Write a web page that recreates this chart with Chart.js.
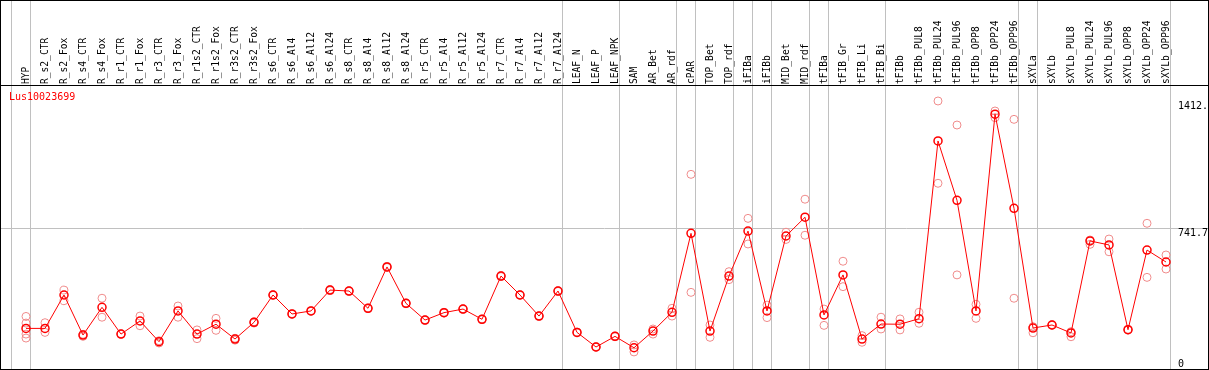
<!DOCTYPE html>
<html>
<head>
<meta charset="utf-8">
<script src="https://cdn.jsdelivr.net/npm/chart.js@4.4.1/dist/chart.umd.min.js"></script>
<style>
  body { margin: 0; background: #fff; }
  #wrap { position: relative; width: 1209px; height: 370px; box-sizing: border-box; border: 1px solid #000; }
  #gene { position: absolute; left: 8px; top: 90px; color: #f00; font: 10px "DejaVu Sans Mono", monospace; }
  canvas { display: block; }
</style>
</head>
<body>
<div id="wrap">
  <canvas id="myChart" width="1207" height="368"></canvas>
  <div id="gene">Lus10023699</div>
</div>
<script>
// Sample names, one column each
const categories = [
    'HYP', 'R_s2_CTR', 'R_s2_Fox', 'R_s4_CTR', 'R_s4_Fox', 'R_r1_CTR', 'R_r1_Fox', 'R_r3_CTR', 'R_r3_Fox',
    'R_r1s2_CTR', 'R_r1s2_Fox', 'R_r3s2_CTR', 'R_r3s2_Fox',
    'R_s6_CTR', 'R_s6_Al4', 'R_s6_Al12', 'R_s6_Al24', 'R_s8_CTR', 'R_s8_Al4', 'R_s8_Al12', 'R_s8_Al24',
    'R_r5_CTR', 'R_r5_Al4', 'R_r5_Al12', 'R_r5_Al24', 'R_r7_CTR', 'R_r7_Al4', 'R_r7_Al12', 'R_r7_Al24',
    'LEAF_N', 'LEAF_P', 'LEAF_NPK', 'SAM', 'AR_Bet', 'AR_rdf', 'cPAR', 'TOP_Bet', 'TOP_rdf',
    'iFIBa', 'iFIBb', 'MID_Bet', 'MID_rdf', 'tFIBa', 'tFIB_Gr', 'tFIB_Li', 'tFIB_Bi',
    'tFIBb', 'tFIBb_PUL8', 'tFIBb_PUL24', 'tFIBb_PUL96', 'tFIBb_OPP8', 'tFIBb_OPP24', 'tFIBb_OPP96',
    'sXYLa', 'sXYLb', 'sXYLb_PUL8', 'sXYLb_PUL24', 'sXYLb_PUL96', 'sXYLb_OPP8', 'sXYLb_OPP24', 'sXYLb_OPP96'
];

// Mean expression per sample
const means = [
    214, 214, 390, 179, 325, 184, 253, 144, 306, 184,
    236, 158, 246, 390, 290, 306, 416, 411, 320, 538,
    346, 258, 297, 316, 262, 490, 390, 279, 411, 193,
    116, 172, 112, 200, 299, 715, 200, 490, 727, 306,
    701, 800, 285, 496, 158, 237, 236, 265, 1202, 889,
    306, 1343, 847, 216, 232, 190, 675, 654, 207, 627,
    564
];

// Replicate values per sample
const replicates = [
    [277, 242, 184, 163], [244, 193], [416, 360], [183, 172], [373, 273], [186, 183], [279, 228], [149, 137],
    [332, 273], [206, 160], [267, 204], [162, 152], [249, 242], [392, 388], [292, 288], [308, 304],
    [419, 413], [413, 409], [322, 318], [541, 535], [348, 344], [260, 256], [299, 295], [318, 314],
    [264, 260], [493, 487], [392, 388], [281, 277], [413, 409], [195, 191], [118, 114], [174, 170],
    [127, 90], [211, 184], [320, 279], [1026, 404], [232, 167], [513, 471], [794, 659], [337, 271],
    [721, 683], [895, 705], [316, 230], [568, 434], [176, 141], [273, 211], [264, 206], [299, 241],
    [1412.7, 979], [1286, 496], [341, 267], [1360, 1325], [1316, 373], [223, 191], [234, 230], [197, 170],
    [680, 657], [685, 618], [209, 205], [768, 483], [601, 527]
];

// Sample index after which a group separator line is drawn
const groupEnds = [-1, 0, 28, 31, 34, 35, 37, 38, 39, 41, 42, 45, 52, 53, 60];

// Value ticks on the right
const yTicks = [741.7, 1412.7];
const zeroTick = [0];

const font = { family: 'DejaVu Sans Mono', size: 10 };
const xMin = -1.316, xMax = 62.21;

const meanPoints = means.map((v, i) => ({ x: i, y: v }));
const repPoints = [];
replicates.forEach((list, i) => list.forEach(v => repPoints.push({ x: i, y: v })));

const ctx = document.getElementById('myChart').getContext('2d');

const myChart = new Chart(ctx, {
    type: 'line',
    data: {
        datasets: [{
            label: 'Lus10023699',
            data: meanPoints,
            xAxisID: 'x',
            yAxisID: 'y',
            borderColor: '#ff0000',
            borderWidth: 1,
            pointRadius: 4,
            pointBorderWidth: 1.5,
            pointBorderColor: '#ff0000',
            pointBackgroundColor: 'rgba(0,0,0,0)',
            tension: 0
        }, {
            label: 'replicates',
            data: repPoints,
            xAxisID: 'x',
            yAxisID: 'y',
            showLine: false,
            pointRadius: 4,
            pointBorderWidth: 1,
            pointBorderColor: '#f08c8c',
            pointBackgroundColor: 'rgba(0,0,0,0)'
        }]
    },
    options: {
        responsive: false,
        animation: false,
        devicePixelRatio: 1,
        layout: { padding: 0, autoPadding: false },
        plugins: { legend: { display: false }, tooltip: { enabled: false } },
        scales: {
            x: {
                type: 'linear', position: 'top', min: xMin, max: xMax, weight: 1,
                grid: { display: false, drawTicks: false },
                border: { display: true, color: '#000', width: 1 },
                ticks: {
                    autoSkip: false, minRotation: 90, maxRotation: 90, padding: 1, labelOffset: 12,
                    color: '#000', font: { family: 'DejaVu Sans Mono', size: 9.6 },
                    callback: v => categories[v] || ''
                },
                afterBuildTicks: s => { s.ticks = categories.map((c, i) => ({ value: i })); },
                afterFit: s => { s.height = 84; s.paddingLeft = 0; s.paddingRight = 0; }
            },
            xg: {
                type: 'linear', axis: 'x', position: 'top', min: xMin, max: xMax, weight: 0,
                grid: { color: '#c0c0c0', lineWidth: 1, drawTicks: true, tickLength: 84 },
                border: { display: false },
                ticks: { display: false },
                afterBuildTicks: s => { s.ticks = groupEnds.map(i => ({ value: i + 0.229 })); },
                afterFit: s => { s.height = 0; s.paddingLeft = 0; s.paddingRight = 0; }
            },
            y: {
                position: 'right', min: 0, max: 1497,
                grid: {
                    drawTicks: false,
                    color: c => (c.tick && c.tick.value === 741.7) ? '#c0c0c0' : 'rgba(0,0,0,0)'
                },
                border: { display: false },
                ticks: {
                    autoSkip: false, mirror: true, crossAlign: 'far', align: 'start', padding: 6,
                    color: '#000', font: font, callback: v => String(v)
                },
                afterBuildTicks: s => { s.ticks = yTicks.map(v => ({ value: v })); },
                afterFit: s => { s.width = 0; s.paddingTop = 0; s.paddingBottom = 0; }
            },
            y0: {
                type: 'linear', axis: 'y', position: 'right', min: 0, max: 1497,
                grid: { display: false, drawTicks: false },
                border: { display: false },
                ticks: {
                    autoSkip: false, mirror: true, crossAlign: 'far', align: 'end', padding: -24,
                    color: '#000', font: font, callback: v => String(v)
                },
                afterBuildTicks: s => { s.ticks = zeroTick.map(v => ({ value: v })); },
                afterFit: s => { s.width = 0; s.paddingTop = 0; s.paddingBottom = 0; }
            }
        }
    }
});
</script>
</body>
</html>
